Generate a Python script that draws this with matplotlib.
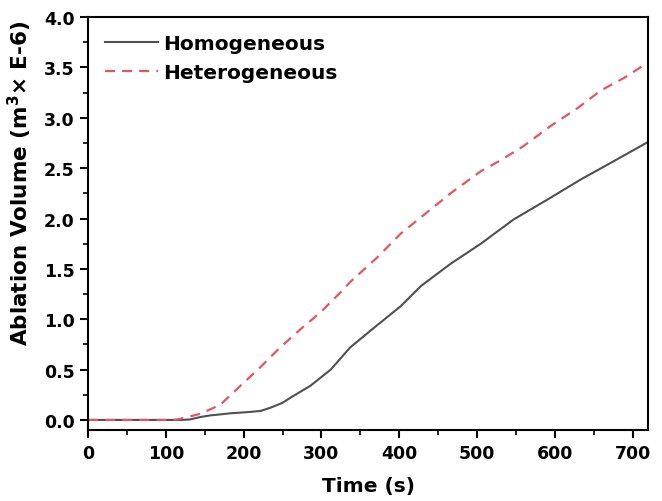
import matplotlib
matplotlib.use("Agg")
import matplotlib.pyplot as plt
from matplotlib.ticker import MultipleLocator, FormatStrFormatter

plt.rcParams['font.family'] = ['DejaVu Sans']
plt.rcParams['font.weight'] = 'bold'
plt.rcParams['mathtext.default'] = 'bf'

# Ablation volume over time (m^3 x 1e-6)
homog_t = [0, 60, 120, 131, 145, 157, 170, 183, 200, 209, 222, 234, 250, 260,
           286, 312, 337, 370, 402, 428, 466, 505, 547, 591, 634, 676, 720]
homog_v = [0.0, 0.0, 0.0, 0.005, 0.03, 0.045, 0.055, 0.066, 0.075, 0.08, 0.09,
           0.12, 0.17, 0.22, 0.34, 0.50, 0.72, 0.93, 1.13, 1.33, 1.55, 1.75,
           1.99, 2.19, 2.39, 2.57, 2.76]

hetero_t = [0, 60, 110, 118, 144, 170, 196, 221, 247, 273, 299, 325, 337, 370,
            402, 434, 466, 505, 531, 560, 595, 630, 659, 690, 720]
hetero_v = [0.0, 0.0, 0.0, 0.01, 0.06, 0.15, 0.34, 0.52, 0.72, 0.90, 1.07, 1.27,
            1.37, 1.60, 1.85, 2.05, 2.25, 2.47, 2.58, 2.72, 2.92, 3.10, 3.27,
            3.40, 3.55]

fig = plt.figure(figsize=(6.62, 5.02), dpi=100)
ax = fig.add_axes([0.133, 0.1414, 0.846, 0.8226])

ax.plot(homog_t, homog_v, color='#505050', lw=1.5, label='Homogeneous')
ax.plot(hetero_t, hetero_v, color='#e5555f', lw=1.6, dashes=(4.5, 3.2),
        label='Heterogeneous')

ax.set_xlim(0, 720)
ax.set_ylim(-0.1, 4.0)
ax.xaxis.set_major_locator(MultipleLocator(100))
ax.xaxis.set_minor_locator(MultipleLocator(50))
ax.yaxis.set_major_locator(MultipleLocator(0.5))
ax.yaxis.set_minor_locator(MultipleLocator(0.25))
ax.yaxis.set_major_formatter(FormatStrFormatter('%.1f'))

for s in ax.spines.values():
    s.set_linewidth(1.5)
ax.tick_params(which='major', direction='out', length=5.8, width=1.5,
               labelsize=12.5, pad=4)
ax.tick_params(which='minor', direction='out', length=3.5, width=1.2)
for lbl in ax.get_xticklabels() + ax.get_yticklabels():
    lbl.set_fontweight('bold')

ax.set_xlabel('Time (s)', fontsize=14.5, fontweight='bold', labelpad=10)
ax.set_ylabel('Ablation Volume (m$^3$× E-6)', fontsize=15.5,
              fontweight='bold')
ax.yaxis.set_label_coords(-0.097, 0.6)

leg = ax.legend(loc='upper left', frameon=False, fontsize=14.5,
                handlelength=2.6, handletextpad=0.3, labelspacing=0.5,
                borderaxespad=0.45, bbox_to_anchor=(0.0, 1.0))
for t in leg.get_texts():
    t.set_fontweight('bold')

fig.savefig('out.png', dpi=100)
